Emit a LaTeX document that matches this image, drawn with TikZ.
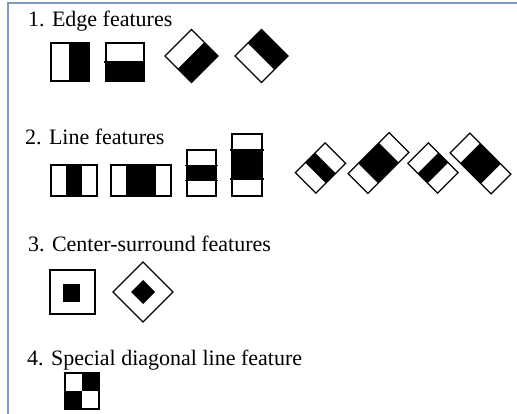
\documentclass[tikz,border=0pt]{standalone}
\usepackage{fontspec}
\setmainfont{Liberation Serif}
\definecolor{framec}{HTML}{7F98BC}
\tikzset{
  feat/.style={draw=black, line width=1.3pt, fill=white},
  blk/.style={fill=black},
  title/.style={anchor=base west, inner sep=0pt, font=\fontsize{22}{25}\selectfont}
}
\begin{document}
\begin{tikzpicture}[x=1pt,y=-1pt]
\useasboundingbox (0,0) rectangle (517,414);
\fill[white] (0,0) rectangle (517,414);
% frame
\draw[framec, line width=1.5pt] (8,414) -- (8,3) -- (517,3);

% titles
\node[title] (t1) at (28,27) {1. Edge features};
\node[title] (t2) at (25,145) {2. Line features};
\node[title] (t3) at (28,252) {3. Center-surround features};
\node[title] (t4) at (27,365) {4. Special diagonal line feature};

% 1. edge features
\fill[blk] (70,43) rectangle (89,81);
\draw[feat, fill=none] (51,43) rectangle (89,81) (70,43) -- (70,81);
\fill[blk] (106,62) rectangle (144,81);
\draw[feat, fill=none] (106,43) rectangle (144,81) (104,62) -- (144,62);
% diamond 1: black lower-right half
\fill[blk] (204.75,42.75) -- (218,56) -- (191.5,82.5) -- (178.25,69.25) -- cycle;
\draw[feat, fill=none] (165,56) -- (191.5,29.5) -- (218,56) -- (191.5,82.5) -- cycle
  (204.75,42.75) -- (178.25,69.25);
% diamond 2: black upper-right half
\fill[blk] (248.25,42.75) -- (261.5,29.5) -- (288,56) -- (274.75,69.25) -- cycle;
\draw[feat, fill=none] (235,56) -- (261.5,29.5) -- (288,56) -- (261.5,82.5) -- cycle
  (248.25,42.75) -- (274.75,69.25);

% 2. line features
\fill[blk] (66.3,165) rectangle (81.7,196);
\draw[feat, fill=none] (51,165) rectangle (97,196);
\fill[blk] (126,165) rectangle (156,196);
\draw[feat, fill=none] (111,165) rectangle (171,196);
\fill[blk] (187,165.3) rectangle (216,180.7);
\draw[feat, fill=none] (187,150) rectangle (216,196)
  (185,165.3) -- (218,165.3) (185,180.7) -- (218,180.7);
\fill[blk] (232,150) rectangle (262,179);
\draw[feat, fill=none] (232,134) rectangle (262,196)
  (230,150) -- (264,150) (230,179) -- (264,179);

% rotated line features
\begin{scope}[shift={(320.5,168)}, rotate=45]
  \fill[blk] (-7,-14.5) rectangle (7,14.5);
  \draw[feat, fill=none] (-21,-14.5) rectangle (21,14.5);
\end{scope}
\begin{scope}[shift={(378.5,163)}, rotate=45]
  \fill[blk] (-14.5,-14) rectangle (14.5,14);
  \draw[feat, fill=none] (-29,-14) rectangle (29,14);
\end{scope}
\begin{scope}[shift={(433,168)}, rotate=-45]
  \fill[blk] (-7,-14.5) rectangle (7,14.5);
  \draw[feat, fill=none] (-21,-14.5) rectangle (21,14.5);
\end{scope}
\begin{scope}[shift={(480.5,163.5)}, rotate=-45]
  \fill[blk] (-14.5,-14) rectangle (14.5,14);
  \draw[feat, fill=none] (-29,-14) rectangle (29,14);
\end{scope}

% 3. center-surround
\draw[feat] (50,270) rectangle (95,314);
\fill[blk] (63,284) rectangle (80,302);
\draw[feat] (113,292) -- (143,262) -- (173,292) -- (143,322) -- cycle;
\fill[blk] (131,292) -- (143,280) -- (155,292) -- (143,304) -- cycle;

% 4. special diagonal
\fill[blk] (82,373) rectangle (99,391);
\fill[blk] (65,391) rectangle (82,409);
\draw[feat, fill=none] (65,373) rectangle (99,409);
\end{tikzpicture}
\end{document}
